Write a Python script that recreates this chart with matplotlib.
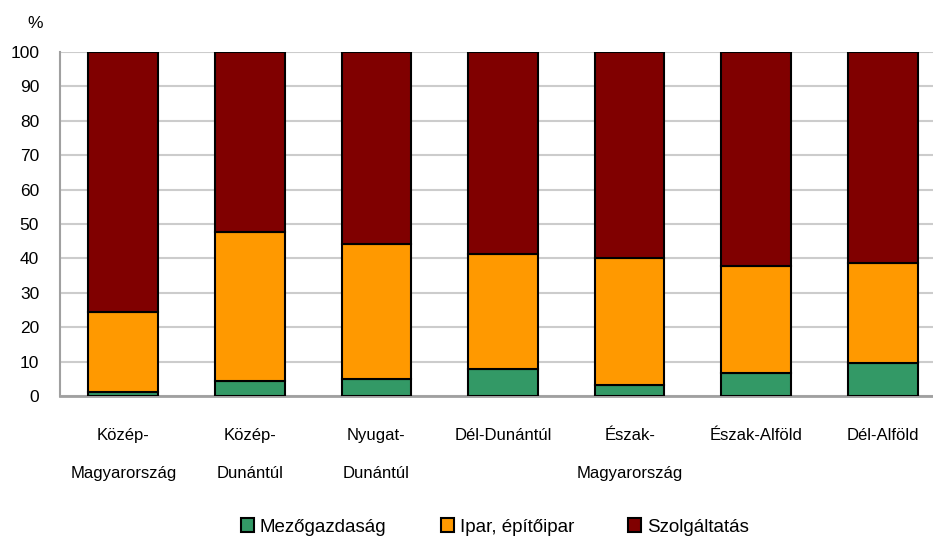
import numpy as np
import matplotlib.pyplot as plt

plt.rcParams['font.family'] = ['Liberation Sans', 'DejaVu Sans']

# Regions and sector shares (%)
regions = ['Közép-\nMagyarország', 'Közép-\nDunántúl', 'Nyugat-\nDunántúl',
           'Dél-Dunántúl', 'Észak-\nMagyarország', 'Észak-Alföld', 'Dél-Alföld']
agri = np.array([1.1, 4.5, 5.0, 7.9, 3.3, 6.8, 9.7])
industry_top = np.array([24.3, 47.6, 44.2, 41.3, 40.0, 37.7, 38.8])
industry = industry_top - agri
services = 100 - industry_top

colors = ['#339966', '#FF9900', '#800000']
labels = ['Mezőgazdaság', 'Ipar, építőipar', 'Szolgáltatás']

fig = plt.figure(figsize=(9.33, 5.39), dpi=100)
ax = fig.add_axes([60 / 933, 143 / 539, 886 / 933, 344 / 539])

x = np.arange(len(regions))
w = 0.55
kw = dict(width=w, edgecolor='black', linewidth=1.5, zorder=3)
ax.bar(x, agri, color=colors[0], label=labels[0], **kw)
ax.bar(x, industry, bottom=agri, color=colors[1], label=labels[1], **kw)
ax.bar(x, services, bottom=industry_top, color=colors[2], label=labels[2], **kw)

ax.set_xlim(-0.5, len(regions) - 0.5)
ax.set_ylim(0, 100)
ax.set_yticks(np.arange(0, 101, 10))
ax.yaxis.grid(True, color='#cccccc', linewidth=1.5, zorder=0)
ax.set_axisbelow(True)

for s in ['top', 'right']:
    ax.spines[s].set_visible(False)
ax.spines['left'].set_color('#a0a0a0')
ax.spines['bottom'].set_color('#a0a0a0')
ax.spines['left'].set_linewidth(1.5)
ax.spines['bottom'].set_linewidth(2)

ax.set_xticks(x)
ax.set_xticklabels(regions, fontsize=12, linespacing=2.9, va='top')
ax.tick_params(axis='x', length=0, pad=23)
ax.tick_params(axis='y', length=0, pad=15, labelsize=12.5)

fig.text(35 / 933, 1 - 23 / 539, '%', fontsize=12.5, ha='center', va='center')

fig.legend(loc='center', bbox_to_anchor=(495 / 933, 12 / 539), ncol=3,
           frameon=False, fontsize=13.5, handlelength=0.7, handleheight=0.7,
           handletextpad=0.3, columnspacing=2.9)

fig.savefig('out.png', dpi=100)
